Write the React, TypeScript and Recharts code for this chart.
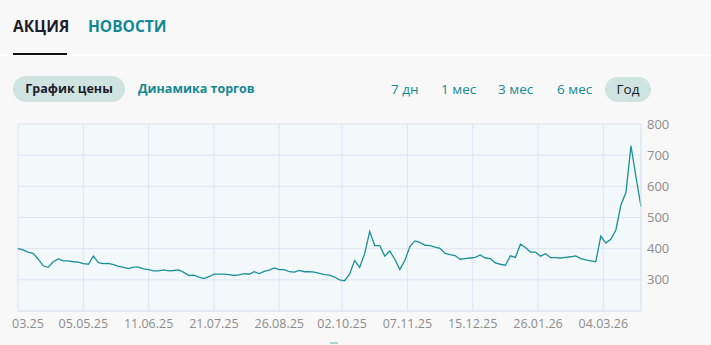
import React from "react";
import { LineChart, Line, XAxis, YAxis, CartesianGrid } from "recharts";

// one reading every 2 trading days, from 24.03.25 to the end of March 2026
const prices = [
  400, 396, 389, 385, 367, 345, 340, 358, 367, 361,
  361, 358, 357, 352, 350, 376, 355, 352, 353, 349,
  343, 340, 336, 341, 341, 335, 333, 329, 329, 332,
  329, 330, 332, 324, 314, 315, 309, 304, 310, 318,
  318, 318, 317, 314, 316, 320, 318, 326, 320, 327,
  331, 338, 333, 333, 326, 325, 330, 326, 326, 325,
  321, 317, 315, 309, 300, 297, 318, 362, 340, 384,
  455, 410, 410, 376, 392, 366, 333, 362, 407, 425,
  420, 411, 410, 405, 401, 385, 381, 378, 366, 368,
  370, 372, 380, 370, 368, 354, 350, 347, 377, 372,
  414, 404, 389, 389, 376, 384, 371, 371, 370, 372,
  374, 377, 368, 364, 361, 358, 440, 418, 430, 460,
  540, 580, 730, 630, 535,
];

const tickDays = [0, 26, 52, 78, 104, 129, 155, 181, 207, 233];
// the first label is cut by the page edge in the original, only its tail shows
const tickLabels = [
  "03.25", "05.05.25", "11.06.25", "21.07.25", "26.08.25",
  "02.10.25", "07.11.25", "15.12.25", "26.01.26", "04.03.26",
];
const priceTicks = [200, 300, 400, 500, 600, 700, 800];
const periods = ["7 дн", "1 мес", "3 мес", "6 мес", "Год"];
const periodLefts = [391, 441, 498, 557, 605];

const data = prices.map((p, i) => ({ day: i * 2, price: p }));

const FONT = "'Open Sans', sans-serif";
const TEAL = "#148892";
const GRID = "#dfe4f0";

function DateTick(props: any) {
  const { x, y, payload } = props;
  const i = tickDays.indexOf(payload.value);
  const first = i === 0;
  return (
    <text
      x={first ? x - 6 : x}
      y={y}
      dy="0.71em"
      textAnchor={first ? "start" : "middle"}
      fill="#8c8c8c"
      fontSize={12.5}
      fontFamily={FONT}
    >
      {tickLabels[i] ?? ""}
    </text>
  );
}

export default function App() {
  return (
    <div
      style={{
        position: "absolute",
        left: 0,
        top: 0,
        width: 711,
        height: 345,
        background: "#f8f8f8",
        fontFamily: FONT,
        overflow: "hidden",
      }}
    >
      {/* tabs */}
      <div style={{ position: "absolute", left: 13, top: 15, fontSize: 15.5, fontWeight: 700, color: "#1d1d2b" }}>
        АКЦИЯ
      </div>
      <div style={{ position: "absolute", left: 88, top: 15, fontSize: 15.5, fontWeight: 700, color: TEAL }}>
        НОВОСТИ
      </div>
      <div style={{ position: "absolute", left: 0, top: 54, width: 711, height: 2, background: "#ffffff" }} />
      <div style={{ position: "absolute", left: 13, top: 53, width: 54, height: 2, background: "#111" }} />

      {/* chart mode */}
      <div
        style={{
          position: "absolute",
          left: 13,
          top: 76,
          width: 112,
          height: 26,
          borderRadius: 13,
          background: "#cfe4e0",
          color: "#1d1d2b",
          fontSize: 12.5,
          fontWeight: 700,
          lineHeight: "26px",
          textAlign: "center",
        }}
      >
        График цены
      </div>
      <div style={{ position: "absolute", left: 138, top: 76, lineHeight: "26px", fontSize: 12.5, fontWeight: 700, color: TEAL }}>
        Динамика торгов
      </div>

      {/* periods */}
      {periods.map((p, i) => {
        const active = p === "Год";
        return (
          <div
            key={p}
            style={{
              position: "absolute",
              left: periodLefts[i],
              top: 77,
              height: 25,
              lineHeight: "25px",
              width: active ? 46 : undefined,
              textAlign: "center",
              borderRadius: 13,
              background: active ? "#cfe4e0" : "transparent",
              color: active ? "#1d1d2b" : TEAL,
              fontSize: 13.5,
            }}
          >
            {p}
          </div>
        );
      })}

      <div style={{ position: "absolute", left: 0, top: 110 }}>
        <LineChart width={700} height={235} data={data} margin={{ top: 14, right: 9, left: 18, bottom: 0 }}>
          <CartesianGrid stroke={GRID} fill="#f3f9fa" />
          <XAxis
            dataKey="day"
            type="number"
            domain={[0, 248]}
            ticks={tickDays}
            interval={0}
            height={34}
            tickLine={false}
            tickSize={0}
            tickMargin={8}
            axisLine={{ stroke: GRID }}
            tick={<DateTick />}
          />
          <YAxis
            orientation="right"
            domain={[200, 800]}
            ticks={priceTicks}
            tickFormatter={(v: number) => (v === 200 ? "" : String(v))}
            width={50}
            tickLine={false}
            tickSize={0}
            tickMargin={6}
            axisLine={{ stroke: GRID }}
            tick={{ fill: "#8c8c8c", fontSize: 13, fontFamily: FONT }}
          />
          <Line
            type="linear"
            dataKey="price"
            stroke="#19909a"
            strokeWidth={1.3}
            dot={false}
            isAnimationActive={false}
          />
        </LineChart>
      </div>

      <div style={{ position: "absolute", left: 330, top: 342, width: 8, height: 2, background: "#a9d6d6" }} />
    </div>
  );
}
